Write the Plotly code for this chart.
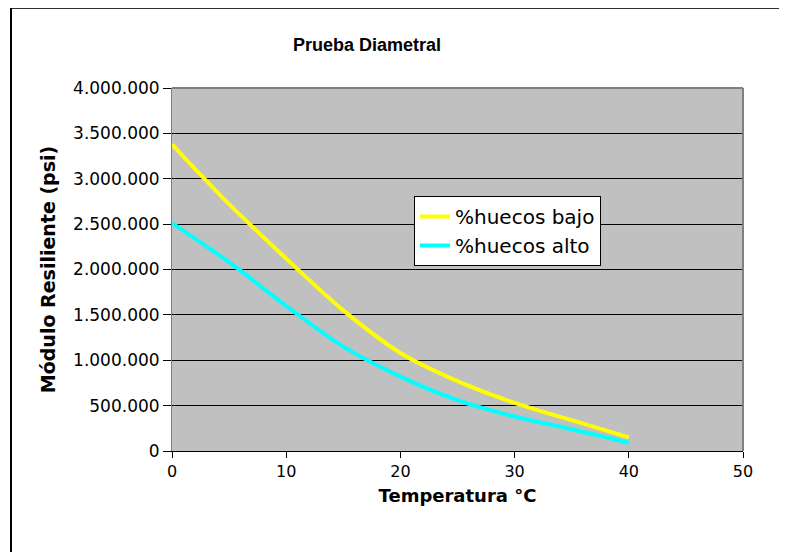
import plotly.graph_objects as go

temperatura = [0, 5, 10, 15, 20, 25, 30, 35, 40]
huecos_bajo = [3380000, 2720000, 2120000, 1550000, 1080000, 770000, 530000, 340000, 150000]
huecos_alto = [2510000, 2080000, 1600000, 1150000, 820000, 560000, 380000, 240000, 90000]
y_ticks = [0, 500000, 1000000, 1500000, 2000000, 2500000, 3000000, 3500000, 4000000]
x_ticks = [0, 10, 20, 30, 40, 50]

OFF = 8  # page body margin
W, H = 787 - OFF, 552 - OFF
PL, PT, PR, PB = 172, 88, 743, 451  # plot area in page pixels
pw, ph = PR - PL, PB - PT

fig = go.Figure()
fig.add_trace(go.Scatter(x=temperatura, y=huecos_bajo, mode="lines", name="%huecos bajo",
                         line=dict(color="#ffff00", width=4, shape="spline")))
fig.add_trace(go.Scatter(x=temperatura, y=huecos_alto, mode="lines", name="%huecos alto",
                         line=dict(color="#00ffff", width=4, shape="spline")))

font = "DejaVu Sans, Liberation Sans, Arial, sans-serif"
fig.update_layout(
    width=W, height=H,
    margin=dict(l=PL - OFF, r=787 - PR, t=PT - OFF, b=552 - PB),
    paper_bgcolor="white", plot_bgcolor="#c0c0c0",
    separators=",.",
    font=dict(family=font, size=17, color="black"),
    showlegend=True,
    legend=dict(x=(414 - PL) / pw, y=(PB - 196) / ph, xanchor="left", yanchor="top",
                bgcolor="white", bordercolor="black", borderwidth=1,
                font=dict(size=20, family=font), tracegroupgap=0, itemwidth=30),
    title=dict(text="<b>Prueba Diametral</b>", x=(367 - OFF) / W, xanchor="center",
               y=1 - (45 - OFF) / H, yanchor="middle",
               font=dict(size=18, family="Liberation Sans, Arial, sans-serif")),
    xaxis=dict(range=[0, 50], tickvals=x_ticks, showgrid=False, zeroline=False,
               showline=True, linecolor="black", linewidth=1,
               ticks="outside", ticklen=6, tickcolor="black",
               title=dict(text="<b>Temperatura °C</b>", font=dict(size=18), standoff=9),
               tickfont=dict(size=16)),
    yaxis=dict(range=[0, 4000000], tickvals=y_ticks, tickformat=",d",
               showgrid=True, gridcolor="black", gridwidth=1, zeroline=False,
               showline=True, linecolor="#808080", linewidth=1,
               ticks="outside", ticklen=8, tickcolor="black",
               title=dict(text="<b>Módulo Resiliente (psi)</b>", font=dict(size=19), standoff=12),
               tickfont=dict(size=17)),
    shapes=[
        dict(type="line", xref="paper", yref="paper", x0=0, x1=1, y0=1, y1=1,
             line=dict(color="#808080", width=2)),
        dict(type="line", xref="paper", yref="paper", x0=1, x1=1, y0=0, y1=1,
             line=dict(color="#808080", width=2)),
        dict(type="line", xref="paper", yref="paper",
             x0=(11 - PL) / pw, x1=(787 - PL) / pw,
             y0=(PB - 8) / ph, y1=(PB - 8) / ph,
             line=dict(color="#303030", width=2), layer="above"),
        dict(type="line", xref="paper", yref="paper",
             x0=(11 - PL) / pw, x1=(11 - PL) / pw,
             y0=(PB - 8) / ph, y1=(PB - 552) / ph,
             line=dict(color="black", width=2), layer="above"),
    ],
)

fig.write_html("out.html", config={"displayModeBar": False}, include_plotlyjs=True,
               full_html=True)
